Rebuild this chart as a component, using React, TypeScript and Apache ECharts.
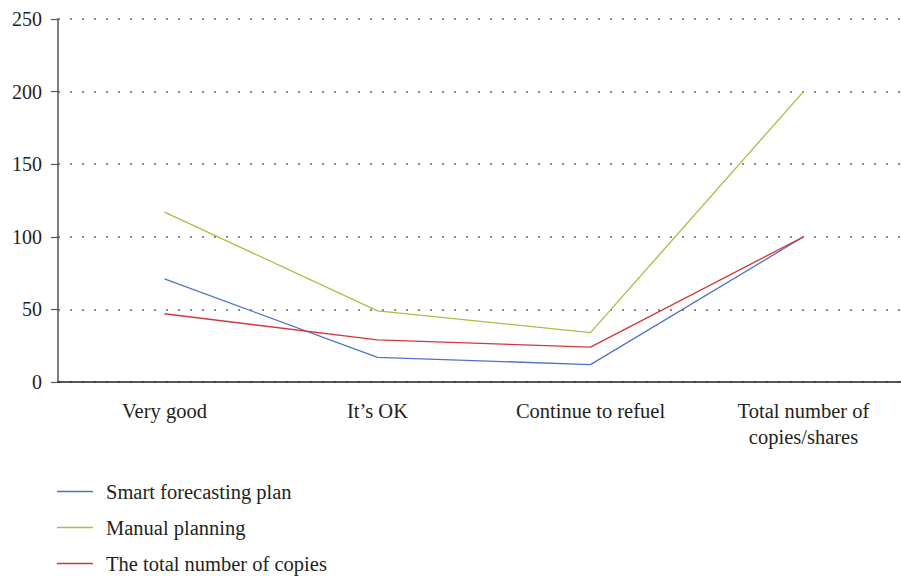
import React, { useEffect, useRef } from "react";
import * as echarts from "echarts";

const categories = ["Very good", "It\u2019s OK", "Continue to refuel", "Total number of\ncopies/shares"];
const smartForecasting = [71, 17, 12, 100];
const manualPlanning = [117, 49, 34, 200];
const totalCopies = [47, 29, 24, 100];
const seriesNames = ["Smart forecasting plan", "Manual planning", "The total number of copies"];
const colors = ["#4F72C4", "#A8BE45", "#D0393B"];

const FONT = "'Liberation Serif', 'DejaVu Serif', serif";
const legendTops = [481, 517, 553];

export default function App() {
  const ref = useRef<HTMLDivElement>(null);
  useEffect(() => {
    if (!ref.current) return;
    const chart = echarts.init(ref.current, undefined, { renderer: "svg" });
    const mk = (name: string, data: number[], color: string) => ({
      name,
      type: "line",
      data,
      symbol: "none",
      lineStyle: { color, width: 1.3 },
      itemStyle: { color },
    });
    chart.setOption({
      animation: false,
      backgroundColor: "#ffffff",
      grid: { left: 58, top: 19, bottom: 194, width: 852, containLabel: false },
      legend: seriesNames.map((n, i) => ({
        orient: "vertical",
        left: 57,
        top: legendTops[i],
        padding: 0,
        icon: "rect",
        itemWidth: 36,
        itemHeight: 1.5,
        textStyle: { fontFamily: FONT, fontSize: 20.5, color: "#231f20", lineHeight: 20, padding: [0, 0, 0, 8] },
        data: [n],
      })),
      xAxis: {
        type: "category",
        data: categories,
        boundaryGap: true,
        axisLine: { lineStyle: { color: "#231f20", width: 1.5 } },
        axisTick: { alignWithLabel: true, length: 7, lineStyle: { color: "#231f20", width: 1.2 } },
        axisLabel: { fontFamily: FONT, fontSize: 20.5, color: "#231f20", margin: 16, lineHeight: 26, interval: 0 },
      },
      yAxis: {
        type: "value",
        min: 0,
        max: 250,
        interval: 50,
        axisLine: { show: true, lineStyle: { color: "#555555", width: 1.5 } },
        axisTick: { show: true, length: 7, lineStyle: { color: "#555555", width: 1.2 } },
        axisLabel: { fontFamily: FONT, fontSize: 20, color: "#231f20", margin: 16 },
        splitLine: { show: true, lineStyle: { color: "#666666", width: 1.5, type: [2, 10] } },
      },
      series: [
        mk(seriesNames[0], smartForecasting, colors[0]),
        mk(seriesNames[1], manualPlanning, colors[1]),
        mk(seriesNames[2], totalCopies, colors[2]),
      ],
    });
    return () => chart.dispose();
  }, []);
  return (
    <div style={{ width: 901, height: 576, position: "absolute", left: 0, top: 0, overflow: "hidden" }}>
      <div ref={ref} style={{ width: 920, height: 576 }} />
    </div>
  );
}
